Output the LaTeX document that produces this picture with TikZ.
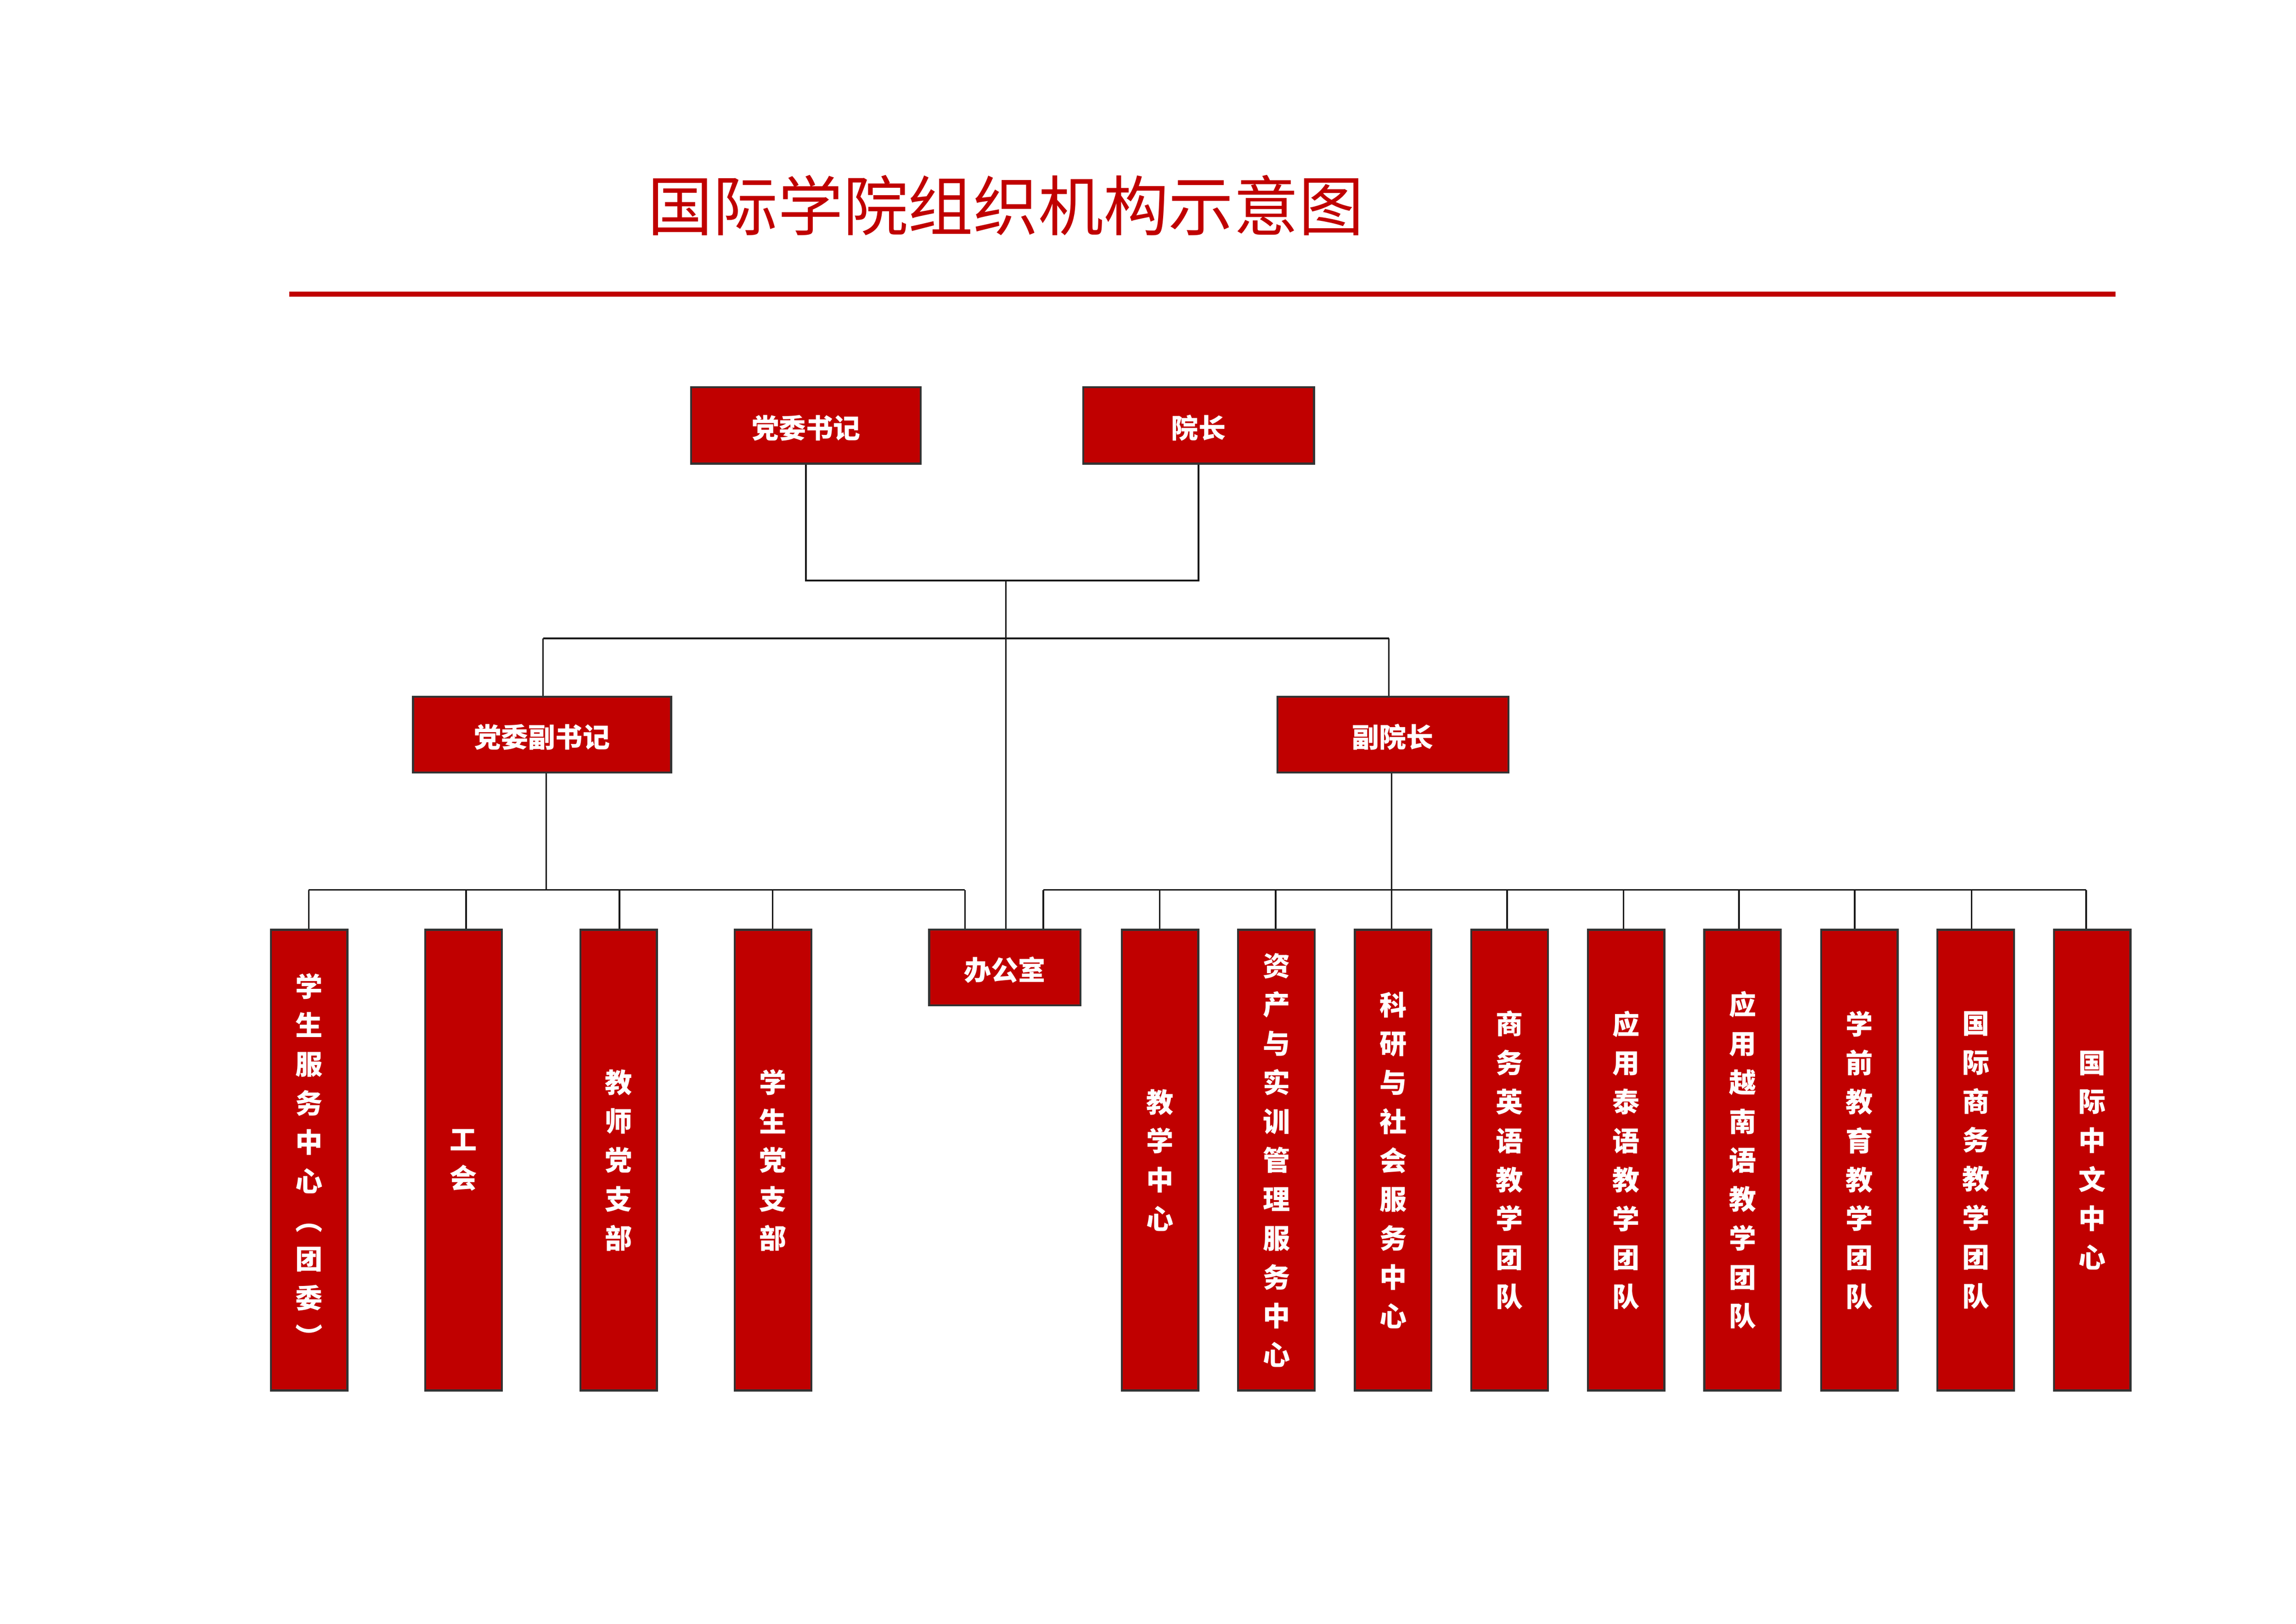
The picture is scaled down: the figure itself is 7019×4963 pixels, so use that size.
\documentclass[tikz,border=0pt]{standalone}
\usepackage{fontspec}
\newfontfamily\cjk{Noto Sans CJK SC}
\definecolor{boxred}{HTML}{C00000}
\definecolor{boxline}{HTML}{333333}
\begin{document}
\begin{tikzpicture}[x=0.1pt,y=-0.1pt,
  box/.style={draw=boxline, fill=boxred, line width=0.6pt, inner sep=0pt, text=white,
    font=\cjk\bfseries\fontsize{8.3}{11.9}\selectfont, align=center},
  hbox/.style={box, minimum height=23.4pt, text height=8.3pt, text depth=0.4pt},
  tall/.style={box, minimum width=23.4pt, minimum height=140.8pt},
  link/.style={draw=black!90, line width=0.5pt}]
\useasboundingbox (0,0) rectangle (7019,4963);
\fill[white] (0,0) rectangle (7019,4963);

% title and rule
\node[font=\cjk\fontsize{19.9}{20}\selectfont, text=boxred, inner sep=0pt] (title) at (3075,627) {国际学院组织机构示意图};
\coordinate (ruleL) at (884,899);
\coordinate (ruleR) at (6467,899);
\draw[boxred, line width=1.6pt] (ruleL) -- (ruleR);

% top level
\node[hbox, minimum width=70.2pt] (sj) at (2464,1300) {党委书记};
\node[hbox, minimum width=70.6pt] (yz) at (3664,1300) {院长};
% second level
\node[hbox, minimum width=78.9pt, minimum height=23.2pt] (fsj) at (1657,2245) {党委副书记};
\node[hbox, minimum width=70.6pt, minimum height=23.2pt] (fyz) at (4258,2245) {副院长};
% office
\node[hbox, minimum width=46.3pt, minimum height=23.1pt] (bgs) at (3072,2957) {办公室};

% left tall boxes
\node[tall] (l1) at (945,3546) {学\\生\\服\\务\\中\\心\\︵\\团\\委\\︶};
\node[tall] (l2) at (1417,3546) {工\\会};
\node[tall] (l3) at (1891,3546) {教\\师\\党\\支\\部};
\node[tall] (l4) at (2363,3546) {学\\生\\党\\支\\部};
% right tall boxes
\node[tall] (r1) at (3546,3546) {教\\学\\中\\心};
\node[tall] (r2) at (3902,3546) {资\\产\\与\\实\\训\\管\\理\\服\\务\\中\\心};
\node[tall] (r3) at (4259,3546) {科\\研\\与\\社\\会\\服\\务\\中\\心};
\node[tall] (r4) at (4615,3546) {商\\务\\英\\语\\教\\学\\团\\队};
\node[tall] (r5) at (4971,3546) {应\\用\\泰\\语\\教\\学\\团\\队};
\node[tall] (r6) at (5327,3546) {应\\用\\越\\南\\语\\教\\学\\团\\队};
\node[tall] (r7) at (5684,3546) {学\\前\\教\\育\\教\\学\\团\\队};
\node[tall] (r8) at (6040,3546) {国\\际\\商\\务\\教\\学\\团\\队};
\node[tall] (r9) at (6396,3546) {国\\际\\中\\文\\中\\心};

% junction coordinates
\coordinate (j0) at (3075,1774);
\coordinate (a1) at (1660,1951);
\coordinate (a2) at (4246,1951);
\coordinate (L0) at (1670,2720);
\coordinate (L1) at (944,2720);
\coordinate (L2) at (1425,2720);
\coordinate (L3) at (1894,2720);
\coordinate (L4) at (2362,2720);
\coordinate (L5) at (2950,2720);
\coordinate (R0) at (3189,2720);
\coordinate (R1) at (3545,2720);
\coordinate (R2) at (3900,2720);
\coordinate (R3) at (4254,2720);
\coordinate (R4) at (4607,2720);
\coordinate (R5) at (4963,2720);
\coordinate (R6) at (5316,2720);
\coordinate (R7) at (5670,2720);
\coordinate (R8) at (6027,2720);
\coordinate (R9) at (6377,2720);

% connectors
\draw[link] (sj.south) |- (j0) -| (yz.south);
\draw[link] (j0) -- (j0 |- bgs.north);
\draw[link] (a1) -- (a2);
\draw[link] (a1) -- (a1 |- fsj.north);
\draw[link] (a2) -- (a2 |- fyz.north);

\draw[link] (L0 |- fsj.south) -- (L0);
\draw[link] (L1) -- (L5);
\draw[link] (L1) -- (L1 |- l1.north);
\draw[link] (L2) -- (L2 |- l2.north);
\draw[link] (L3) -- (L3 |- l3.north);
\draw[link] (L4) -- (L4 |- l4.north);
\draw[link] (L5) -- (L5 |- bgs.north);

\draw[link] (R0) -- (R9);
\draw[link] (R0) -- (R0 |- bgs.north);
\draw[link] (R3 |- fyz.south) -- (R3 |- r3.north);
\draw[link] (R1) -- (R1 |- r1.north);
\draw[link] (R2) -- (R2 |- r2.north);
\draw[link] (R4) -- (R4 |- r4.north);
\draw[link] (R5) -- (R5 |- r5.north);
\draw[link] (R6) -- (R6 |- r6.north);
\draw[link] (R7) -- (R7 |- r7.north);
\draw[link] (R8) -- (R8 |- r8.north);
\draw[link] (R9) -- (R9 |- r9.north);
\end{tikzpicture}
\end{document}
